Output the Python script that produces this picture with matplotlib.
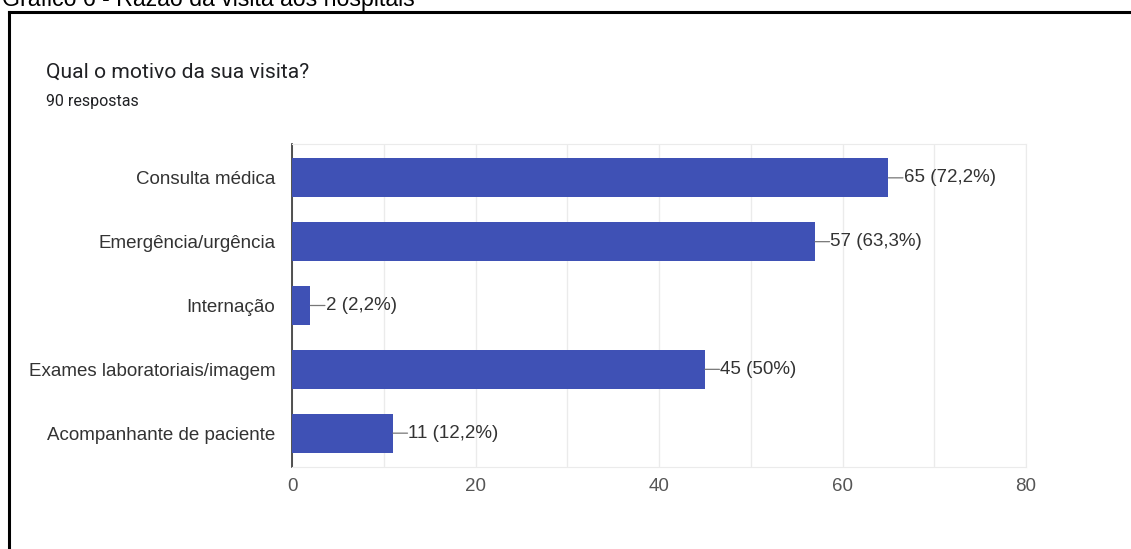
import matplotlib.pyplot as plt
from matplotlib.lines import Line2D

plt.rcParams['font.family'] = ['Liberation Sans', 'DejaVu Sans']

## DATA
categorias = ["Consulta médica", "Emergência/urgência", "Internação",
              "Exames laboratoriais/imagem", "Acompanhante de paciente"]
respostas = [65, 57, 2, 45, 11]
percentuais = ["72,2%", "63,3%", "2,2%", "50%", "12,2%"]
total = 90
xticks = [0, 20, 40, 60, 80]

cor_barra = '#3f51b5'

fig = plt.figure(figsize=(11.31, 5.49), dpi=100)
fig.patch.set_facecolor('white')

# caption above the card, cut by the top edge
fig.text(0.002, 1 - 6/549, "Gráfico 6 - Razão da visita aos hospitais", fontsize=16.7,
         color='black', ha='left', va='baseline')

# card frame (top and left edges only are visible)
fig.add_artist(Line2D([8.5/1131, 1.0], [1 - 12/549, 1 - 12/549], color='black', lw=2.2,
                      transform=fig.transFigure))
fig.add_artist(Line2D([8.5/1131, 8.5/1131], [0, 1 - 12/549], color='black', lw=2.2,
                      transform=fig.transFigure))

fig.text(46/1131, 1 - 72/549, "Qual o motivo da sua visita?", fontsize=15.2, color='#202124',
         family=['Roboto', 'DejaVu Sans'], ha='left', va='center')
fig.text(46/1131, 1 - 101/549, f"{total} respostas", fontsize=11.5, color='#202124',
         family=['Roboto', 'DejaVu Sans'], ha='left', va='center')

ax = fig.add_axes([292/1131, 1 - 467/549, (1026 - 292)/1131, (467 - 144)/549])
y = list(range(len(categorias)))
ax.barh(y, respostas, height=0.61, color=cor_barra, zorder=3)

for yi, v, p in zip(y, respostas, percentuais):
    ax.annotate("", xy=(v, yi), xytext=(10.5, 0), textcoords='offset points',
                arrowprops=dict(arrowstyle='-', color='#777777', lw=0.9, shrinkA=0, shrinkB=0))
    ax.annotate(f"{v} ({p})", xy=(v, yi), xytext=(11, 0), textcoords='offset points',
                ha='left', va='center', fontsize=13.5, color='#333333')

ax.set_ylim(len(categorias) - 0.47, -0.53)
ax.set_xlim(0, 80)
ax.set_yticks(y)
ax.set_yticklabels(categorias, fontsize=13.5, color='#333333')
ax.set_xticks(xticks)
ax.set_xticklabels([str(t) for t in xticks], fontsize=13.5, color='#555555')
ax.set_xticks(range(0, 81, 10), minor=True)
ax.grid(axis='x', which='both', color='#ebebeb', lw=1, zorder=0)
ax.tick_params(axis='both', which='both', length=0)
ax.tick_params(axis='y', pad=12)
ax.tick_params(axis='x', pad=8)

for s in ['top', 'right', 'bottom']:
    ax.spines[s].set_color('#ebebeb')
ax.spines['left'].set_color('#333333')
ax.spines['left'].set_linewidth(1.2)

fig.savefig('out.png', dpi=100, facecolor='white')
